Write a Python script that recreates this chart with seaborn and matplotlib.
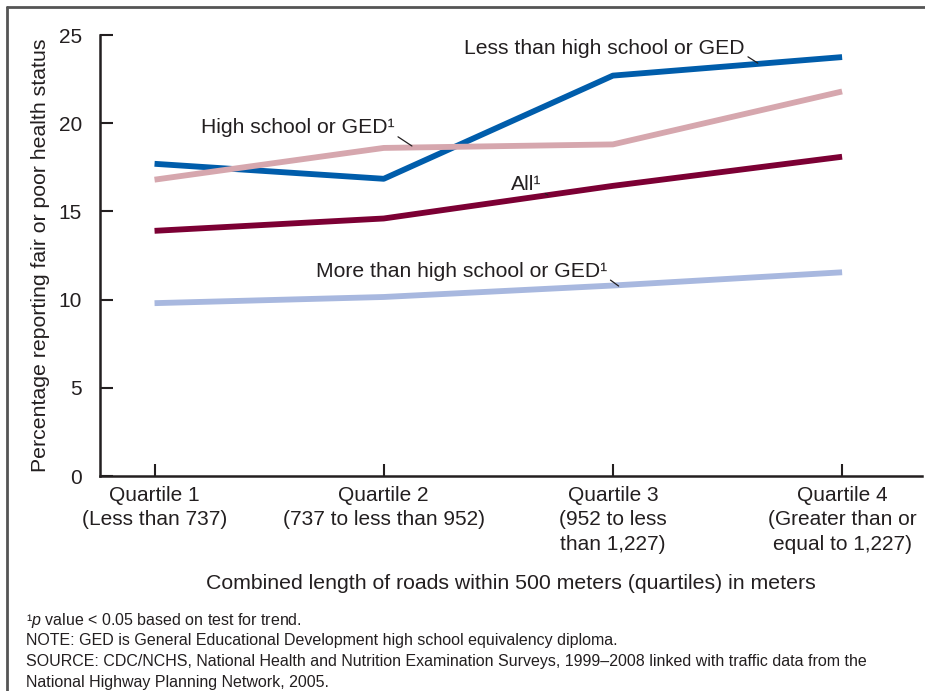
import matplotlib
matplotlib.use('Agg')
import matplotlib.pyplot as plt
import matplotlib.lines as mlines
import pandas as pd
import seaborn as sns

quartiles = ['Quartile 1\n(Less than 737)', 'Quartile 2\n(737 to less than 952)',
             'Quartile 3\n(952 to less\nthan 1,227)', 'Quartile 4\n(Greater than or\nequal to 1,227)']
less_than_hs = [17.7, 16.85, 22.7, 23.75]
hs_or_ged = [16.8, 18.6, 18.8, 21.8]
all_adults = [13.9, 14.6, 16.45, 18.1]
more_than_hs = [9.8, 10.15, 10.8, 11.55]

series = ['Less than high school or GED', 'High school or GED', 'All', 'More than high school or GED']
colors = ['#005dab', '#d6a7ae', '#7c0034', '#a8b8df']

rows = []
for name, vals in zip(series, [less_than_hs, hs_or_ged, all_adults, more_than_hs]):
    for i, v in enumerate(vals):
        rows.append({'x': i, 'value': v, 'group': name})
df = pd.DataFrame(rows)

sns.set_style('ticks')
plt.rcParams['font.family'] = ['Liberation Sans', 'DejaVu Sans']
plt.rcParams['mathtext.fontset'] = 'custom'
plt.rcParams['mathtext.rm'] = 'Liberation Sans'
plt.rcParams['mathtext.it'] = 'Liberation Sans:italic'
txt = '#231f20'

fig = plt.figure(figsize=(9.25, 6.91), dpi=100)
ax = fig.add_axes([0.1081, 0.3111, 0.889, 0.6382])

sns.lineplot(data=df, x='x', y='value', hue='group', hue_order=series,
             palette=colors, linewidth=4.2, legend=False, ax=ax, zorder=3)
for ln in ax.lines:
    ln.set_solid_capstyle('butt')

ax.set_xlim(-0.238, 3.35)
ax.set_ylim(0, 25)
ax.set_yticks([0, 5, 10, 15, 20, 25])
ax.set_xticks(range(4))
ax.set_xticklabels(quartiles, fontsize=15, color=txt, linespacing=1.38)
ax.set_yticklabels(['0', '5', '10', '15', '20', '25'], fontsize=15, color=txt)
ax.tick_params(axis='y', direction='in', length=9, width=1.5, pad=13, color=txt)
ax.tick_params(axis='x', direction='in', length=9, width=1.5, pad=7, color=txt)
for side in ['top', 'right']:
    ax.spines[side].set_visible(False)
for side in ['left', 'bottom']:
    ax.spines[side].set_linewidth(1.8)
    ax.spines[side].set_color(txt)

ax.set_xlabel('Combined length of roads within 500 meters (quartiles) in meters',
              fontsize=15.3, color=txt, labelpad=14)
ax.set_ylabel('Percentage reporting fair or poor health status', fontsize=15.3,
              color=txt, labelpad=6)

# in-line labels with leader lines
labels = [
    ('Less than high school or GED', (2.575, 24.26), (2.632, 23.41)),
    ('High school or GED\u00b9', (1.048, 19.73), (1.123, 18.71)),
    ('All\u00b9', (1.69, 16.5), (1.716, 15.93)),
    ('More than high school or GED\u00b9', (1.975, 11.62), (2.025, 10.77)),
]
for text, tpos, lpos in labels:
    ax.annotate(text, xy=lpos, xytext=tpos, ha='right', va='center',
                fontsize=15.2, color=txt,
                arrowprops=dict(arrowstyle='-', color=txt, lw=0.9, shrinkA=0, shrinkB=0,
                                relpos=(1, 0.15)))

notes = ['\u00b9$\\it{p}$ value < 0.05 based on test for trend.',
         'NOTE: GED is General Educational Development high school equivalency diploma.',
         'SOURCE: CDC/NCHS, National Health and Nutrition Examination Surveys, 1999\u20132008 linked with traffic data from the',
         'National Highway Planning Network, 2005.']
for i, n in enumerate(notes):
    fig.text(0.028, 1 - (620 + i * 20.7) / 691, n, fontsize=11.5, color=txt, va='center')

# outer frame (left and top edges)
fig.add_artist(mlines.Line2D([0.0076, 0.0076], [0, 0.990], color='#555555', lw=2))
fig.add_artist(mlines.Line2D([0.0076, 1.0], [0.990, 0.990], color='#555555', lw=2))

fig.savefig('out.png', dpi=100)
